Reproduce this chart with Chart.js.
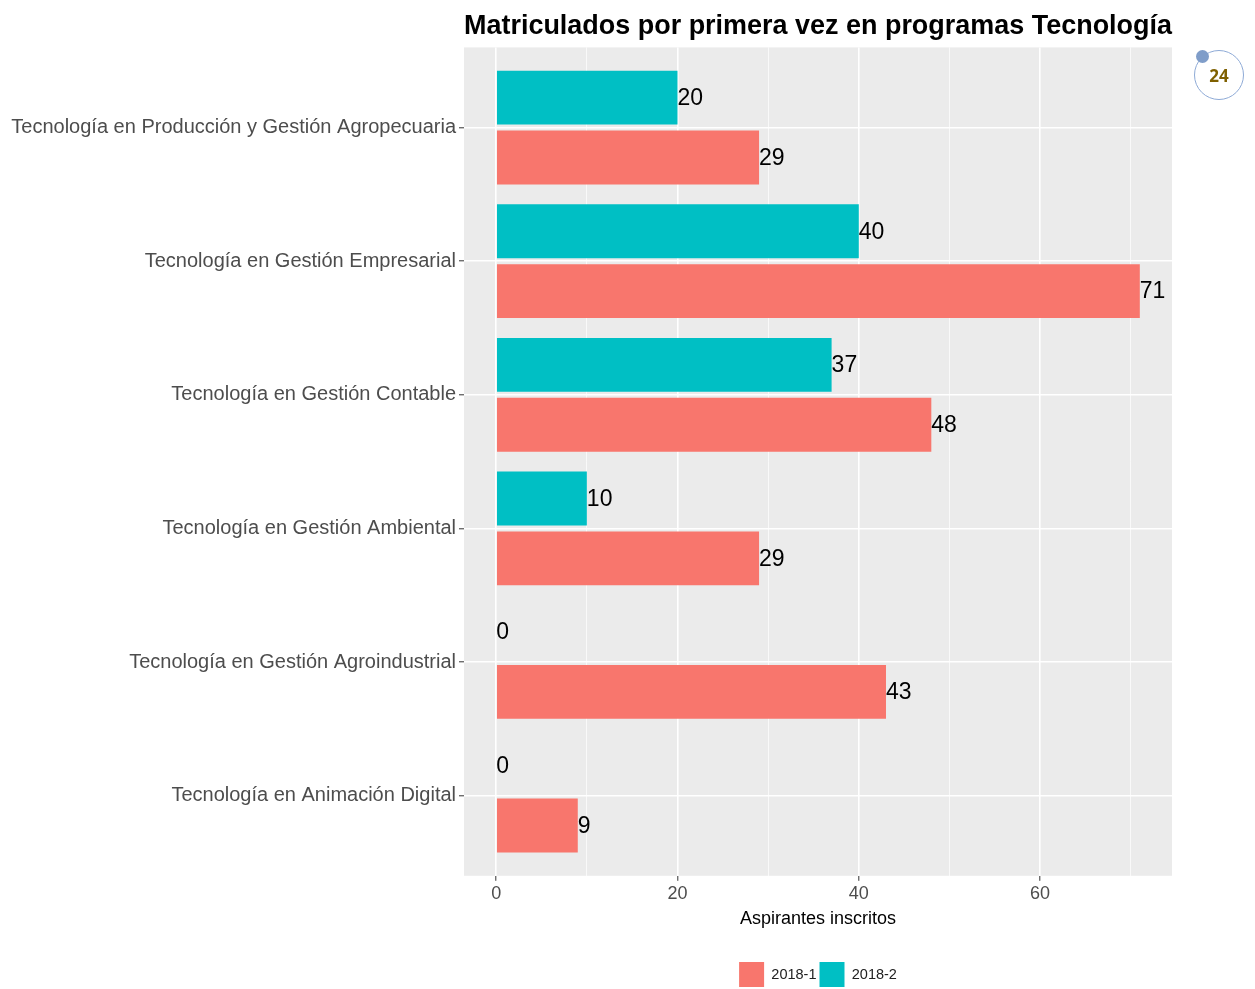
<!DOCTYPE html>
<html>
<head>
<meta charset="utf-8">
<script src="https://cdn.jsdelivr.net/npm/chart.js@4"></script>
<style>
    html, body { margin: 0; padding: 0; background: #fff; }
    #wrap { position: relative; width: 1255px; height: 989px; }
    #badge {
        position: absolute; left: 1194px; top: 50px; width: 48px; height: 48px;
        border: 1.5px solid #8eaad6; border-radius: 50%;
        font: bold 17px "Open Sans", "Liberation Sans", sans-serif; color: #7f6000;
        display: flex; align-items: center; justify-content: center;
    }
    #badge::before {
        content: ''; position: absolute; left: 1px; top: -1px; width: 13px; height: 13px;
        border-radius: 50%; background: #7f9dc9;
    }
</style>
</head>
<body>
<div id="wrap">
    <canvas id="chart"></canvas>
    <div id="badge">24</div>
</div>
<script>
const programs = [
    'Tecnología en Producción y Gestión Agropecuaria',
    'Tecnología en Gestión Empresarial',
    'Tecnología en Gestión Contable',
    'Tecnología en Gestión Ambiental',
    'Tecnología en Gestión Agroindustrial',
    'Tecnología en Animación Digital'
];
const values20181 = [29, 71, 48, 29, 43, 9];
const values20182 = [20, 40, 37, 10, 0, 0];
const xTicks = [0, 10, 20, 30, 40, 50, 60, 70];
const xLabelled = [0, 20, 40, 60];

const FONT = '"Liberation Sans", Arial, sans-serif';

const toPoints = (vals) => vals.map((v, i) => ({ x: v, y: i + 1 }));

// gray ggplot panel behind everything
const panelBg = {
    id: 'panelBg',
    beforeDraw(chart) {
        const { ctx, chartArea: a } = chart;
        ctx.save();
        ctx.fillStyle = '#ebebeb';
        ctx.fillRect(a.left, a.top, a.right - a.left, a.bottom - a.top);
        ctx.restore();
    }
};

// value labels at the end of each bar
const barLabels = {
    id: 'barLabels',
    afterDatasetsDraw(chart) {
        const { ctx } = chart;
        ctx.save();
        ctx.font = '23px ' + FONT;
        ctx.fillStyle = '#000';
        ctx.textAlign = 'left';
        ctx.textBaseline = 'middle';
        chart.data.datasets.forEach((ds, di) => {
            chart.getDatasetMeta(di).data.forEach((bar, i) => {
                ctx.fillText(String(ds.data[i].x), bar.x, bar.y + 1);
            });
        });
        ctx.restore();
    }
};

new Chart(document.getElementById('chart'), {
    type: 'bar',
    data: {
        datasets: [
            { label: '2018-2', data: toPoints(values20182), backgroundColor: '#00bfc4' },
            { label: '2018-1', data: toPoints(values20181), backgroundColor: '#f8766d' }
        ]
    },
    options: {
        indexAxis: 'y',
        responsive: true,
        maintainAspectRatio: false,
        animation: false,
        categoryPercentage: 0.8955,
        barPercentage: 0.9,
        layout: { padding: { left: 0, right: 83, top: 6, bottom: -8 } },
        scales: {
            y: {
                type: 'linear',
                reverse: true,
                offset: false,
                min: 0.4,
                max: 6.6,
                afterBuildTicks: (scale) => { scale.ticks = programs.map((_, i) => ({ value: i + 1 })); },
                afterFit: (scale) => { scale.width = 464; },
                ticks: {
                    callback: (v) => programs[v - 1],
                    color: '#4d4d4d',
                    font: { family: FONT, size: 20 },
                    padding: 3
                },
                grid: { offset: false, color: '#ffffff', lineWidth: 1.6, tickLength: 5, tickColor: '#333333', tickWidth: 1 },
                border: { display: false }
            },
            x: {
                type: 'linear',
                min: -3.55,
                max: 74.55,
                afterBuildTicks: (scale) => { scale.ticks = xTicks.map((v) => ({ value: v })); },
                ticks: {
                    callback: (v) => (xLabelled.includes(v) ? String(v) : ''),
                    color: '#4d4d4d',
                    font: { family: FONT, size: 18 },
                    padding: 2,
                    maxRotation: 0,
                    autoSkip: false
                },
                grid: {
                    color: '#ffffff',
                    lineWidth: (c) => (xLabelled.includes(c.tick.value) ? 1.6 : 0.7),
                    tickLength: 5,
                    tickColor: (c) => (xLabelled.includes(c.tick.value) ? '#333333' : 'rgba(0,0,0,0)'),
                    tickWidth: 1
                },
                border: { display: false },
                title: {
                    display: true,
                    text: 'Aspirantes inscritos',
                    color: '#000',
                    font: { family: FONT, size: 18 },
                    padding: { top: 2, bottom: 29 }
                }
            }
        },
        plugins: {
            title: {
                display: true,
                fullSize: false,
                align: 'start',
                text: 'Matriculados por primera vez en programas Tecnología',
                color: '#000',
                font: { family: FONT, size: 27, weight: 'bold' },
                padding: { top: 4, bottom: 5 }
            },
            legend: {
                position: 'bottom',
                fullSize: false,
                reverse: true,
                labels: {
                    boxWidth: 25,
                    boxHeight: 25,
                    padding: 3,
                    color: '#222',
                    font: { family: FONT, size: 14.5 }
                }
            },
            tooltip: { enabled: false }
        }
    },
    plugins: [panelBg, barLabels]
});
</script>
</body>
</html>
